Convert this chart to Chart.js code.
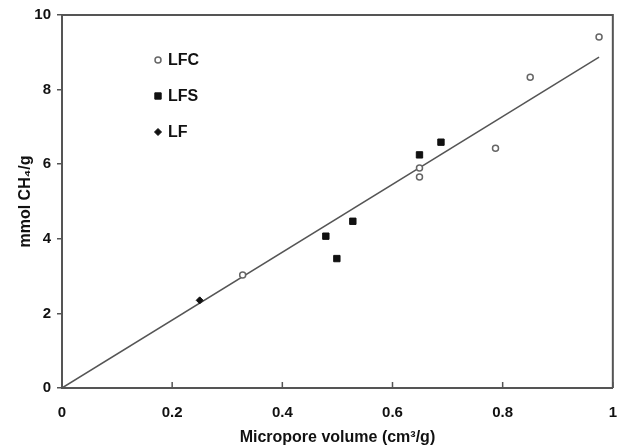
<!DOCTYPE html>
<html>
<head>
<meta charset="utf-8">
<script src="https://cdn.jsdelivr.net/npm/chart.js@4"></script>
<style>
  html, body { margin: 0; padding: 0; background: #fff; }
  #wrap { width: 633px; height: 447px; }
</style>
</head>
<body>
<div id="wrap"><canvas id="mychart"></canvas></div>
<script>
// data
const lfcX = [0.328, 0.649, 0.649, 0.787, 0.850, 0.975];
const lfcY = [3.03, 5.66, 5.90, 6.43, 8.33, 9.41];
const lfsX = [0.479, 0.499, 0.528, 0.649, 0.688];
const lfsY = [4.07, 3.47, 4.47, 6.25, 6.59];
const lfX = [0.25];
const lfY = [2.35];
const fitX = [0, 0.975];
const fitY = [0, 8.87];
const xTicks = [0, 0.2, 0.4, 0.6, 0.8, 1];
const yTicks = [0, 2, 4, 6, 8, 10];

const toPts = (xs, ys) => xs.map((x, i) => ({ x: x, y: ys[i] }));
const axisColor = '#555';
const fam = 'Liberation Sans, Arial, sans-serif';
const tickFont = { family: fam, size: 15, weight: 'bold' };
const titleFont = { family: fam, size: 16, weight: 'bold' };

// frame on top/right, inward x ticks, legend in the plot
const extras = {
    id: 'extras',
    afterDraw(chart) {
        const ctx = chart.ctx;
        const a = chart.chartArea;
        const xs = chart.scales.x;
        ctx.save();
        ctx.strokeStyle = axisColor;
        ctx.lineWidth = 2;
        ctx.beginPath();
        ctx.moveTo(a.left, a.top);
        ctx.lineTo(a.right, a.top);
        ctx.lineTo(a.right, a.bottom);
        ctx.stroke();
        ctx.lineWidth = 1.5;
        xTicks.forEach((v) => {
            const px = xs.getPixelForValue(v);
            ctx.beginPath();
            ctx.moveTo(px, a.bottom);
            ctx.lineTo(px, a.bottom - 6);
            ctx.stroke();
        });
        // legend
        const items = chart.data.datasets.filter((d) => d.label);
        ctx.font = 'bold 16px ' + fam;
        ctx.textBaseline = 'middle';
        items.forEach((d, i) => {
            const y = 60 + i * 36;
            ctx.fillStyle = d.backgroundColor;
            ctx.strokeStyle = d.borderColor;
            ctx.lineWidth = d.borderWidth;
            Chart.helpers.drawPoint(ctx, {
                pointStyle: d.pointStyle,
                radius: d.pointRadius,
                borderWidth: d.borderWidth
            }, 158, y);
            ctx.fillStyle = '#111';
            ctx.fillText(d.label, 168, y + 1);
        });
        ctx.restore();
    }
};

new Chart(mychart, {
    type: 'scatter',
    data: {
        datasets: [
            {
                label: 'LFC',
                data: toPts(lfcX, lfcY),
                pointStyle: 'circle',
                pointRadius: 3,
                borderWidth: 1.5,
                borderColor: '#666',
                backgroundColor: '#fff',
            },
            {
                label: 'LFS',
                data: toPts(lfsX, lfsY),
                pointStyle: 'rect',
                pointRadius: 4.5,
                borderWidth: 1,
                borderColor: '#111',
                backgroundColor: '#111',
            },
            {
                label: 'LF',
                data: toPts(lfX, lfY),
                pointStyle: 'rectRot',
                pointRadius: 3.5,
                borderWidth: 1,
                borderColor: '#111',
                backgroundColor: '#111',
            },
            {
                type: 'line',
                data: toPts(fitX, fitY),
                borderColor: '#555',
                borderWidth: 1.5,
                pointRadius: 0,
                fill: false,
            },
        ],
    },
    options: {
        responsive: true,
        maintainAspectRatio: false,
        animation: false,
        layout: { padding: { top: 10, right: 16, left: 0, bottom: 0 } },
        plugins: {
            legend: { display: false },
            tooltip: { enabled: false },
        },
        scales: {
            x: {
                type: 'linear',
                min: 0,
                max: 1,
                afterFit: (s) => { s.height = 59; },
                afterBuildTicks: (s) => { s.ticks = xTicks.map((v) => ({ value: v })); },
                grid: { display: false, drawTicks: false },
                border: { display: true, color: axisColor, width: 2 },
                ticks: { font: tickFont, color: '#111', padding: 16, callback: (v) => String(v) },
                title: {
                    display: true,
                    text: 'Micropore volume (cm³/g)',
                    font: titleFont,
                    color: '#111',
                    padding: { top: 0, bottom: 0 },
                },
            },
            y: {
                type: 'linear',
                min: 0,
                max: 10,
                afterFit: (s) => { s.width = 62; },
                afterBuildTicks: (s) => { s.ticks = yTicks.map((v) => ({ value: v })); },
                grid: { display: true, drawOnChartArea: false, drawTicks: true, tickLength: 5, color: axisColor, lineWidth: 1.5 },
                border: { display: true, color: axisColor, width: 2 },
                ticks: { font: tickFont, color: '#111', padding: 6 },
                title: {
                    display: true,
                    text: 'mmol CH₄/g',
                    font: titleFont,
                    color: '#111',
                    padding: { top: 16, bottom: 0 },
                },
            },
        },
    },
    plugins: [extras],
});
</script>
</body>
</html>
